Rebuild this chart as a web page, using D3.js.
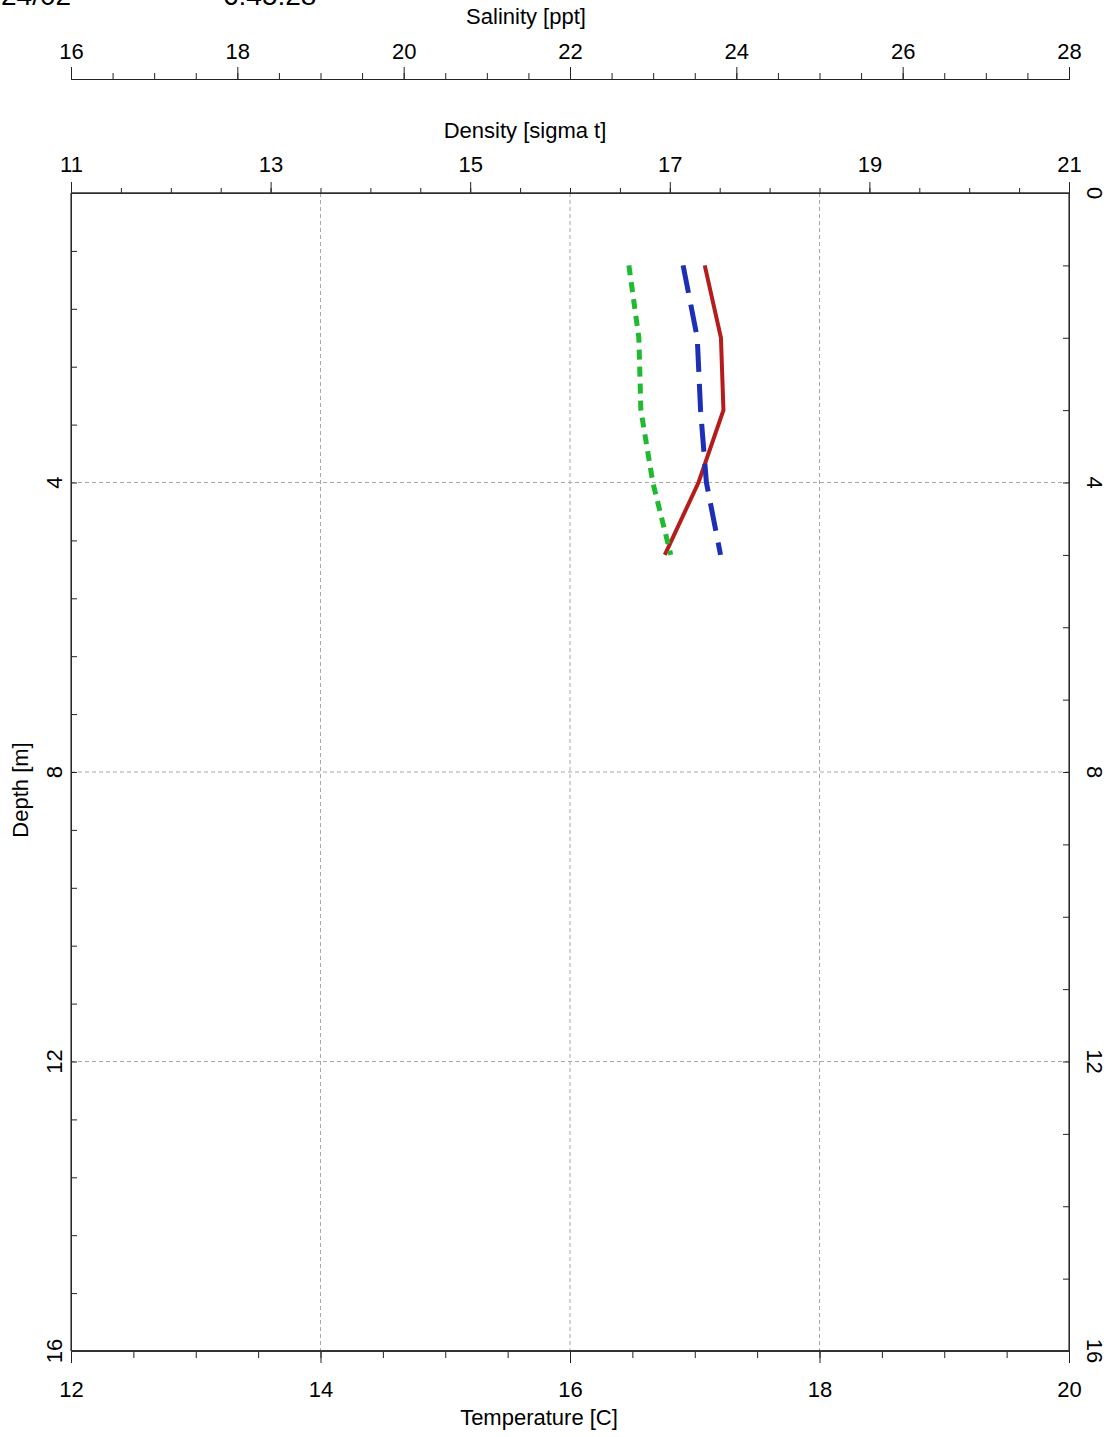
<!DOCTYPE html>
<html>
<head>
<meta charset="utf-8">
<script src="https://cdn.jsdelivr.net/npm/d3@7"></script>
<style>
  html, body { margin: 0; padding: 0; background: #fff; }
  svg { display: block; font-family: "Liberation Sans", Arial, sans-serif; }
</style>
</head>
<body>
<script>
// ---- data ----
const depths = [1, 2, 3, 4, 5];
const temperature = [17.08, 17.21, 17.23, 17.03, 16.76];
const salinity = [23.36, 23.53, 23.57, 23.64, 23.81];
const density = [16.59, 16.69, 16.71, 16.83, 17.01];

const headerLabels = ["24/02", "6:45:28"];
const tempTicks = [12, 14, 16, 18, 20];
const salTicks = [16, 18, 20, 22, 24, 26, 28];
const densTicks = [11, 13, 15, 17, 19, 21];
const depthTicks = [0, 4, 8, 12, 16];

const W = 1112, H = 1437;
const L = 71, R = 1069, T = 193, B = 1351;

const svg = d3.select("body").append("svg").attr("width", W).attr("height", H);

const y = d3.scaleLinear().domain([0, 16]).range([T, B]);
const xT = d3.scaleLinear().domain([12, 20]).range([L, R]);
const xS = d3.scaleLinear().domain([16, 28]).range([L, R]);
const xD = d3.scaleLinear().domain([11, 21]).range([L, R]);

const FS = 22;

// header
svg.append("text").attr("x", 1).attr("y", 5).attr("font-size", 28).text(headerLabels[0]);
svg.append("text").attr("x", 223).attr("y", 5).attr("font-size", 28).text(headerLabels[1]);

// grid
const grid = svg.append("g").attr("stroke", "#a8a8a8").attr("stroke-width", 1).attr("stroke-dasharray", "4,3");
[14, 16, 18].forEach(v => grid.append("line").attr("x1", xT(v)).attr("x2", xT(v)).attr("y1", T).attr("y2", B));
[4, 8, 12].forEach(v => grid.append("line").attr("x1", L).attr("x2", R).attr("y1", y(v)).attr("y2", y(v)));

function styleAxis(g) {
  g.selectAll("path, line").attr("stroke", "#222");
  g.selectAll("text").attr("font-size", FS).attr("fill", "#000").attr("font-family", "Liberation Sans, Arial, sans-serif");
}
function range(a, b, s) { const r = []; for (let v = a; v <= b + 1e-9; v += s) r.push(+v.toFixed(3)); return r; }

// Salinity axis (top, y=79)
const gSmin = svg.append("g").attr("transform", `translate(0,79)`)
  .call(d3.axisTop(xS).tickValues(range(16, 28, 0.5)).tickSize(6).tickFormat(""));
const gS = svg.append("g").attr("transform", `translate(0,79)`)
  .call(d3.axisTop(xS).tickValues(salTicks).tickSize(12).tickPadding(8).tickFormat(d3.format("d")));
styleAxis(gSmin); styleAxis(gS);
svg.append("text").attr("x", 526).attr("y", 24).attr("text-anchor", "middle").attr("font-size", FS).text("Salinity [ppt]");

// Density axis (top of plot)
const gDmin = svg.append("g").attr("transform", `translate(0,${T})`)
  .call(d3.axisTop(xD).tickValues(range(11, 21, 0.5)).tickSize(5).tickFormat(""));
const gD = svg.append("g").attr("transform", `translate(0,${T})`)
  .call(d3.axisTop(xD).tickValues(densTicks).tickSize(11).tickPadding(10).tickFormat(d3.format("d")));
styleAxis(gDmin); styleAxis(gD);
svg.append("text").attr("x", 525).attr("y", 138).attr("text-anchor", "middle").attr("font-size", FS).text("Density [sigma t]");

// Temperature axis (bottom)
const gTmin = svg.append("g").attr("transform", `translate(0,${B})`)
  .call(d3.axisBottom(xT).tickValues(range(12, 20, 0.5)).tickSize(7).tickFormat(""));
const gT = svg.append("g").attr("transform", `translate(0,${B})`)
  .call(d3.axisBottom(xT).tickValues(tempTicks).tickSize(12).tickPadding(18).tickFormat(d3.format("d")));
styleAxis(gTmin); styleAxis(gT);
svg.append("text").attr("x", 539).attr("y", 1425).attr("text-anchor", "middle").attr("font-size", FS).text("Temperature [C]");

// Left depth axis (ticks inward every 0.8 m)
const gLeft = svg.append("g").attr("transform", `translate(${L},0)`)
  .call(d3.axisRight(y).tickValues(range(0, 16, 0.8)).tickSize(6).tickFormat(""));
styleAxis(gLeft);
depthTicks.filter(d => d > 0).forEach(d => {
  svg.append("text").attr("transform", `translate(62,${y(d)}) rotate(-90)`)
    .attr("text-anchor", "middle").attr("font-size", FS).text(d);
});
svg.append("text").attr("transform", `translate(28,790) rotate(-90)`)
  .attr("text-anchor", "middle").attr("font-size", FS).text("Depth [m]");

// Right depth axis (ticks inward every 1 m)
const gRight = svg.append("g").attr("transform", `translate(${R},0)`)
  .call(d3.axisLeft(y).tickValues(range(0, 16, 1)).tickSize(6).tickFormat(""));
styleAxis(gRight);
depthTicks.forEach(d => {
  svg.append("text").attr("transform", `translate(1087,${y(d)}) rotate(90)`)
    .attr("text-anchor", "middle").attr("font-size", FS).text(d);
});

// frame
const fr = svg.append("g").attr("stroke", "#333").attr("fill", "none");
fr.append("line").attr("x1", L).attr("x2", R).attr("y1", T).attr("y2", T).attr("stroke-width", 1.5);
fr.append("line").attr("x1", L).attr("x2", R).attr("y1", B).attr("y2", B).attr("stroke-width", 2);
fr.append("line").attr("x1", L).attr("x2", L).attr("y1", T).attr("y2", B).attr("stroke-width", 1.2);
fr.append("line").attr("x1", R).attr("x2", R).attr("y1", T).attr("y2", B).attr("stroke-width", 1.2);

// profile lines
const mk = (xs, vals) => d3.line().x((d, i) => xs(vals[i])).y(d => y(d));
svg.append("path").datum(depths).attr("d", mk(xT, temperature))
  .attr("fill", "none").attr("stroke", "#b51c1c").attr("stroke-width", 4).attr("stroke-linejoin", "miter");
svg.append("path").datum(depths).attr("d", mk(xD, density))
  .attr("fill", "none").attr("stroke", "#1fba30").attr("stroke-width", 5).attr("stroke-dasharray", "10,7");
svg.append("path").datum(depths).attr("d", mk(xS, salinity))
  .attr("fill", "none").attr("stroke", "#1c2fb5").attr("stroke-width", 5).attr("stroke-dasharray", "28,12");
</script>
</body>
</html>
